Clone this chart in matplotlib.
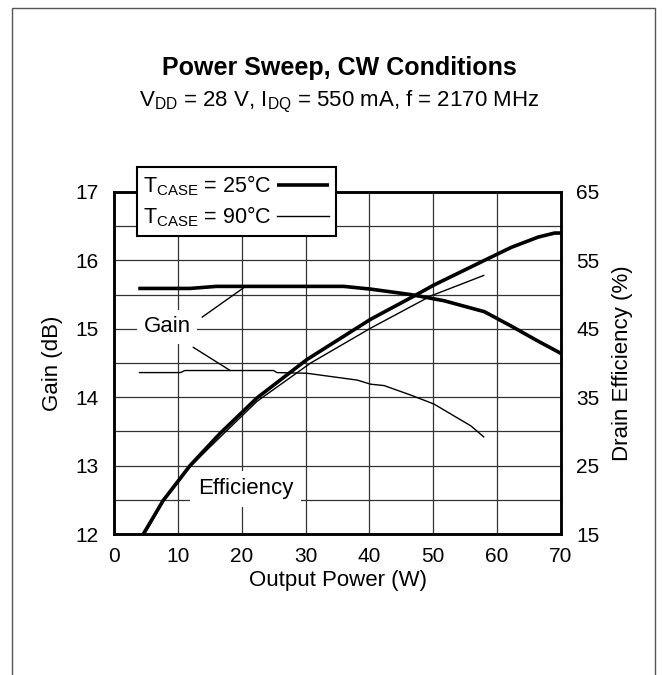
import matplotlib
matplotlib.use("Agg")
import matplotlib.pyplot as plt
from matplotlib.patches import Rectangle

plt.rcParams["font.family"] = ["Liberation Sans", "DejaVu Sans"]
plt.rcParams["mathtext.fontset"] = "custom"
plt.rcParams["mathtext.rm"] = "Liberation Sans"
plt.rcParams["mathtext.it"] = "Liberation Sans:italic"
plt.rcParams["mathtext.bf"] = "Liberation Sans:bold"

# gain (dB) vs output power (W)
gain25_w = [3.8, 11.9, 16.0, 36.0, 40.2, 46.5, 51.7, 58.0, 62.2, 66.4, 70.0]
gain25_db = [15.59, 15.59, 15.62, 15.62, 15.58, 15.50, 15.41, 15.25, 15.04, 14.82, 14.64]
gain90_w = [4.0, 10.4, 11.1, 25.0, 25.5, 30.2, 38.1, 40.2, 42.3, 46.5, 50.1, 55.9, 57.9]
gain90_db = [14.36, 14.36, 14.39, 14.39, 14.36, 14.35, 14.25, 14.19, 14.17, 14.03, 13.90, 13.58, 13.42]

# drain efficiency (%) vs output power (W)
eff25_w = [4.6, 7.7, 11.9, 16.6, 22.4, 30.2, 40.2, 47.0, 50.1, 58.0, 62.2, 66.4, 69.0, 70.0]
eff25_pct = [15.0, 19.9, 25.0, 29.7, 34.9, 40.5, 46.4, 49.8, 51.4, 55.0, 56.9, 58.4, 59.0, 59.0]
eff90_w = [4.8, 7.7, 11.9, 15.0, 22.4, 30.8, 40.2, 49.6, 57.9]
eff90_pct = [15.0, 19.7, 24.8, 27.7, 34.4, 40.0, 45.1, 49.8, 52.8]

x_ticks = [0, 10, 20, 30, 40, 50, 60, 70]
gain_ticks = [12, 13, 14, 15, 16, 17]
eff_ticks = [15, 25, 35, 45, 55, 65]

fig = plt.figure(figsize=(6.63, 6.75), dpi=100)

# outer frame (bottom runs off the picture)
fig.patches.append(Rectangle((12 / 663, -0.1), (655 - 12) / 663, 1.1 - 8 / 675,
                             transform=fig.transFigure, fill=False,
                             edgecolor="#555555", lw=1.0))

ax = fig.add_axes([114 / 663, 1 - 534 / 675, (561 - 114) / 663, (534 - 192) / 675])
ax2 = ax.twinx()

ax.set_xlim(0, 70)
ax.set_ylim(12, 17)
ax2.set_ylim(15, 65)

ax.set_xticks(x_ticks)
ax.set_yticks(gain_ticks)
ax.set_yticks([12.5, 13.5, 14.5, 15.5, 16.5], minor=True)
ax2.set_yticks(eff_ticks)
ax.grid(True, which="both", color="#333333", lw=0.9)
ax.set_axisbelow(True)

ax.tick_params(axis="both", which="both", length=0, labelsize=15, pad=11)
ax.tick_params(axis="x", pad=9)
ax2.tick_params(axis="y", length=0, labelsize=15, pad=11)

for a in (ax, ax2):
    for s in a.spines.values():
        s.set_linewidth(1.8)

l25, = ax.plot(gain25_w, gain25_db, color="black", lw=2.6, solid_capstyle="butt")
l90, = ax.plot(gain90_w, gain90_db, color="black", lw=1.0)
ax2.plot(eff25_w, eff25_pct, color="black", lw=2.6)
ax2.plot(eff90_w, eff90_pct, color="black", lw=1.0)

ax.set_xlabel("Output Power (W)", fontsize=16, labelpad=3)
ax.set_ylabel("Gain (dB)", fontsize=16, labelpad=9)
ax2.set_ylabel("Drain Efficiency (%)", fontsize=16, labelpad=9)

fig.text(0.512, 1 - 68 / 675, "Power Sweep, CW Conditions", ha="center", va="center",
         fontsize=18, fontweight="bold")
fig.text(0.512, 1 - 102 / 675,
         r"V$_\mathregular{DD}$ = 28 V, I$_\mathregular{DQ}$ = 550 mA, f = 2170 MHz",
         ha="center", va="center", fontsize=16)

# curve labels with leader lines
ax2.text(20.6, 21.6, "Efficiency", fontsize=16, ha="center", va="center",
         bbox=dict(boxstyle="square,pad=0.35", fc="white", ec="none"), zorder=5)
ax2.text(8.3, 45.3, "Gain", fontsize=16, ha="center", va="center",
         bbox=dict(boxstyle="square,pad=0.3", fc="white", ec="none"), zorder=5)
ax.annotate("", xy=(20.3, 15.6), xytext=(13.8, 15.17),
            arrowprops=dict(arrowstyle="-", lw=1.0, color="black", shrinkA=0, shrinkB=0))
ax.annotate("", xy=(18.2, 14.39), xytext=(12.4, 14.73),
            arrowprops=dict(arrowstyle="-", lw=1.0, color="black", shrinkA=0, shrinkB=0))

leg = fig.legend([l25, l90],
                 [r"T$_\mathregular{CASE}$ = 25°C", r"T$_\mathregular{CASE}$ = 90°C"],
                 loc="upper left", bbox_to_anchor=(137 / 663, 1 - 167 / 675),
                 markerfirst=False, fontsize=15.5, handlelength=2.4, handletextpad=0.25,
                 borderaxespad=0, borderpad=0.3, labelspacing=0.3, fancybox=False,
                 framealpha=1, edgecolor="black")
leg.get_frame().set_linewidth(1.5)

fig.savefig("out.png", dpi=100, facecolor="white")
